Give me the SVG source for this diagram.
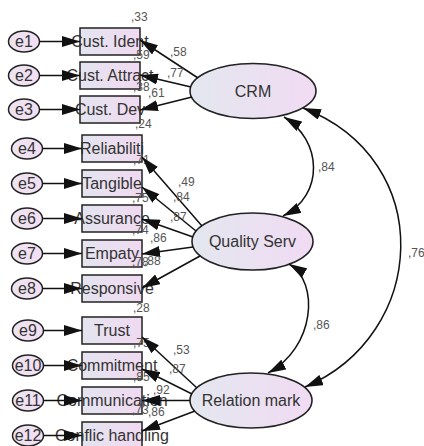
<svg xmlns="http://www.w3.org/2000/svg" width="424" height="446" viewBox="0 0 424 446">
<defs>
<linearGradient id="gBox" x1="0" y1="0" x2="1" y2="0"><stop offset="0" stop-color="#e4e4ef"/><stop offset="1" stop-color="#f0daf1"/></linearGradient>
<linearGradient id="gLat" x1="0" y1="0" x2="1" y2="0"><stop offset="0" stop-color="#e3e7ef"/><stop offset="1" stop-color="#f1dbf3"/></linearGradient>
<linearGradient id="gErr" x1="0" y1="0" x2="1" y2="0"><stop offset="0" stop-color="#ece4f0"/><stop offset="1" stop-color="#f3def3"/></linearGradient>
<marker id="ah" markerWidth="18" markerHeight="11" refX="18" refY="5.5" orient="auto-start-reverse" markerUnits="userSpaceOnUse"><path d="M0,0 L18,5.5 L0,11 z" fill="#111"/></marker>
</defs>
<style>
.box{fill:url(#gBox);stroke:#222;stroke-width:1.5}
.lat{fill:url(#gLat);stroke:#222;stroke-width:1.6}
.err{fill:url(#gErr);stroke:#222;stroke-width:1.5}
.lbl{font-family:"Liberation Sans",Arial,sans-serif;font-size:16px;fill:#333;text-anchor:middle}
.num{font-family:"Liberation Sans",Arial,sans-serif;font-size:12px;fill:#555}
.c{fill:none;stroke:#111;stroke-width:1.5;marker-end:url(#ah)}
.cov{fill:none;stroke:#111;stroke-width:1.5;marker-start:url(#ah);marker-end:url(#ah)}
</style>
<rect width="424" height="446" fill="#ffffff"/>

<g id="e1"><ellipse class="err" cx="24" cy="41.5" rx="15.5" ry="10.5"/><text class="lbl" x="24" y="47">e1</text></g>
<g id="e2"><ellipse class="err" cx="24" cy="75.5" rx="15.5" ry="10.5"/><text class="lbl" x="24" y="81">e2</text></g>
<g id="e3"><ellipse class="err" cx="24" cy="109.5" rx="15.5" ry="10.5"/><text class="lbl" x="24" y="115">e3</text></g>
<g id="e4"><ellipse class="err" cx="27" cy="148.5" rx="15.5" ry="10.5"/><text class="lbl" x="27" y="154">e4</text></g>
<g id="e5"><ellipse class="err" cx="27" cy="183.5" rx="15.5" ry="10.5"/><text class="lbl" x="27" y="189">e5</text></g>
<g id="e6"><ellipse class="err" cx="27" cy="218.5" rx="15.5" ry="10.5"/><text class="lbl" x="27" y="224">e6</text></g>
<g id="e7"><ellipse class="err" cx="27" cy="253.5" rx="15.5" ry="10.5"/><text class="lbl" x="27" y="259">e7</text></g>
<g id="e8"><ellipse class="err" cx="27" cy="288.5" rx="15.5" ry="10.5"/><text class="lbl" x="27" y="294">e8</text></g>
<g id="e9"><ellipse class="err" cx="28" cy="330.5" rx="15.5" ry="10.5"/><text class="lbl" x="28" y="336">e9</text></g>
<g id="e10"><ellipse class="err" cx="28" cy="365.5" rx="15.5" ry="10.5"/><text class="lbl" x="28" y="371">e10</text></g>
<g id="e11"><ellipse class="err" cx="28" cy="400.5" rx="15.5" ry="10.5"/><text class="lbl" x="28" y="406">e11</text></g>
<g id="e12"><ellipse class="err" cx="28" cy="435.5" rx="15.5" ry="10.5"/><text class="lbl" x="28" y="441">e12</text></g>

<g id="cust_ident"><rect class="box" x="80" y="28" width="60" height="27"/><text class="lbl" x="110" y="47">Cust. Ident</text><text class="num" x="131" y="21">,33</text></g>
<g id="cust_attract"><rect class="box" x="80" y="62" width="60" height="27"/><text class="lbl" x="110" y="81">Cust. Attract</text><text class="num" x="133" y="59">,59</text></g>
<g id="cust_dev"><rect class="box" x="80" y="96" width="60" height="27"/><text class="lbl" x="110" y="115">Cust. Dev</text><text class="num" x="133" y="91">,38</text></g>

<g id="reliability"><rect class="box" x="82" y="135" width="60" height="27"/><text class="lbl" x="112" y="154">Reliabiliti</text><text class="num" x="135" y="128">,24</text></g>
<g id="tangible"><rect class="box" x="82" y="170" width="60" height="27"/><text class="lbl" x="112" y="189">Tangible</text><text class="num" x="133" y="164">,71</text></g>
<g id="assurance"><rect class="box" x="82" y="205" width="60" height="27"/><text class="lbl" x="112" y="224">Assurance</text><text class="num" x="132" y="202">,75</text></g>
<g id="empaty"><rect class="box" x="82" y="240" width="60" height="27"/><text class="lbl" x="112" y="259">Empaty</text><text class="num" x="132" y="234">,74</text></g>
<g id="responsive"><rect class="box" x="82" y="275" width="60" height="27"/><text class="lbl" x="112" y="294">Responsive</text><text class="num" x="132" y="266">,78</text></g>

<g id="trust"><rect class="box" x="82" y="317" width="60" height="27"/><text class="lbl" x="112" y="336">Trust</text><text class="num" x="133" y="312">,28</text></g>
<g id="commitment"><rect class="box" x="82" y="352" width="60" height="27"/><text class="lbl" x="112" y="371">Commitment</text><text class="num" x="133" y="347">,75</text></g>
<g id="communication"><rect class="box" x="82" y="387" width="60" height="27"/><text class="lbl" x="112" y="406">Communication</text><text class="num" x="133" y="381">,85</text></g>
<g id="conflict"><rect class="box" x="82" y="422" width="60" height="27"/><text class="lbl" x="112" y="441">Conflic handling</text><text class="num" x="132" y="414">,73</text></g>

<g id="crm"><ellipse class="lat" cx="253" cy="91" rx="63" ry="27.5"/><text class="lbl" x="253" y="97">CRM</text></g>
<g id="quality_serv"><ellipse class="lat" cx="252.5" cy="241.5" rx="60.5" ry="28.5"/><text class="lbl" x="252.5" y="247">Quality Serv</text></g>
<g id="relation_mark"><ellipse class="lat" cx="251" cy="400.5" rx="61" ry="27.5"/><text class="lbl" x="251" y="406">Relation mark</text></g>

<g id="connectors">
<line class="c" x1="39.5" y1="41.5" x2="80" y2="41.5"/>
<line class="c" x1="39.5" y1="75.5" x2="80" y2="75.5"/>
<line class="c" x1="39.5" y1="109.5" x2="80" y2="109.5"/>
<line class="c" x1="42.5" y1="148.5" x2="82" y2="148.5"/>
<line class="c" x1="42.5" y1="183.5" x2="82" y2="183.5"/>
<line class="c" x1="42.5" y1="218.5" x2="82" y2="218.5"/>
<line class="c" x1="42.5" y1="253.5" x2="82" y2="253.5"/>
<line class="c" x1="42.5" y1="288.5" x2="82" y2="288.5"/>
<line class="c" x1="43.5" y1="330.5" x2="82" y2="330.5"/>
<line class="c" x1="43.5" y1="365.5" x2="82" y2="365.5"/>
<line class="c" x1="43.5" y1="400.5" x2="82" y2="400.5"/>
<line class="c" x1="43.5" y1="435.5" x2="82" y2="435.5"/>

<line class="c" x1="198" y1="78" x2="140" y2="40"/>
<line class="c" x1="191" y1="87" x2="140" y2="75"/>
<line class="c" x1="192" y1="97" x2="140" y2="110"/>

<line class="c" x1="202" y1="226" x2="142" y2="157"/>
<line class="c" x1="196" y1="231" x2="142" y2="187"/>
<line class="c" x1="193" y1="237" x2="142" y2="219"/>
<line class="c" x1="193" y1="247" x2="142" y2="254"/>
<line class="c" x1="200" y1="256" x2="142" y2="288"/>

<line class="c" x1="197" y1="388" x2="142" y2="337"/>
<line class="c" x1="192" y1="394" x2="142" y2="369"/>
<line class="c" x1="190" y1="400.5" x2="142" y2="400.5"/>
<line class="c" x1="195" y1="411" x2="142" y2="431"/>

<path class="cov" d="M284 117 C322 140 325 195 283 216"/>
<path class="cov" d="M289 264 C320 282 315 348 268 373"/>
<path class="cov" d="M303 108 C438 160 428 335 305 387"/>

<text class="num" x="170" y="56">,58</text>
<text class="num" x="167" y="77">,77</text>
<text class="num" x="148" y="97">,61</text>
<text class="num" x="178" y="186">,49</text>
<text class="num" x="173" y="201">,84</text>
<text class="num" x="170" y="221">,87</text>
<text class="num" x="150" y="242">,86</text>
<text class="num" x="144" y="265">,88</text>
<text class="num" x="173" y="354">,53</text>
<text class="num" x="169" y="373">,87</text>
<text class="num" x="153" y="394">,92</text>
<text class="num" x="148" y="416">,86</text>
<text class="num" x="318" y="171">,84</text>
<text class="num" x="313" y="329">,86</text>
<text class="num" x="408" y="257">,76</text>
</g>
</svg>
